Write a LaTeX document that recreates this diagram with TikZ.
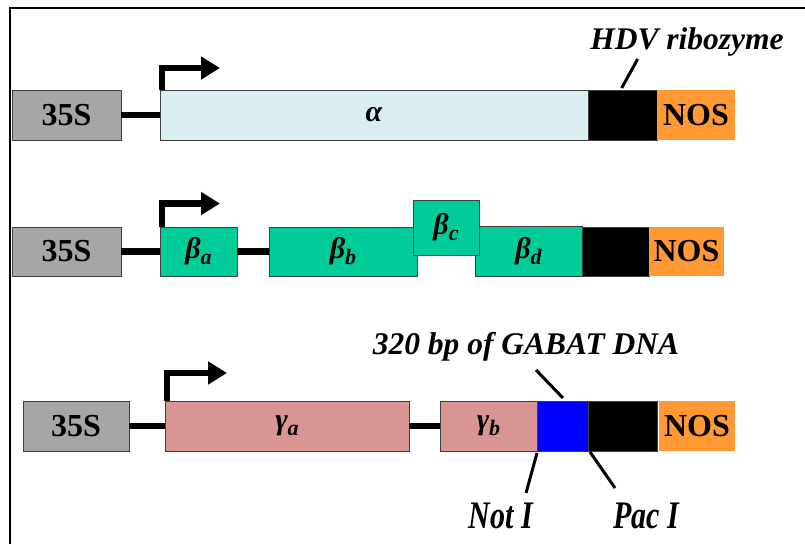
\documentclass[tikz,border=0pt]{standalone}
\usepackage{graphicx}
\usepackage{fontspec}
\setmainfont{Liberation Serif}
\usetikzlibrary{arrows.meta}
\definecolor{promgray}{HTML}{A6A6A6}
\definecolor{alphablue}{HTML}{DAEDF0}
\definecolor{betagreen}{HTML}{00CC99}
\definecolor{gammapink}{HTML}{D99594}
\definecolor{nosorange}{HTML}{FF9933}
\definecolor{gabatblue}{HTML}{0000FF}
\newcommand\bigbf{\fontsize{32}{36}\selectfont\bfseries}
\newcommand\bigbi{\fontsize{31.5}{36}\selectfont\bfseries\itshape}
\newcommand\greekbi{\fontsize{30}{34}\selectfont\bfseries\itshape}
\newcommand\gsub[1]{\raisebox{-6pt}{\fontsize{22}{22}\selectfont #1}}
\newcommand\tallbi[1]{\scalebox{1}[1.3]{\fontsize{30}{34}\selectfont\bfseries\itshape #1}}
\tikzset{
  seg/.style={rectangle, inner sep=0pt, outer sep=0pt, draw=black!75, line width=0.8pt, font=\bigbf},
  gene/.style={seg, font=\greekbi},
  nosbox/.style={rectangle, inner sep=0pt, outer sep=0pt, fill=nosorange, font=\bigbf},
  link/.style={line width=6.5pt},
  prom/.style={line width=6.5pt, -{Triangle[length=19pt,width=22pt]}},
  tick/.style={line width=3pt},
  note/.style={font=\bigbi, inner sep=0pt}
}
\begin{document}
\begin{tikzpicture}[x=1pt,y=-1pt]
\useasboundingbox (0,0) rectangle (805,544);
\fill[white] (0,0) rectangle (805,544);
% frame
\draw[line width=2pt] (10,544) -- (10,8) -- (805,8);

% ---- construct 1
\node[seg, fill=promgray, minimum width=109pt, minimum height=50pt] (s1) at (66.5,115) {35S};
\node[gene, fill=alphablue, minimum width=428pt, minimum height=50pt] (a) at (374,115) {α};
\node[seg, fill=black, minimum width=69pt, minimum height=50pt] (h1) at (622.5,115) {};
\node[nosbox, minimum width=78pt, minimum height=50pt] (n1) at (696,115) {NOS};
\draw[link] (s1.east) -- (a.west);
\coordinate (p1) at (220,68);
\draw[prom] ([xshift=2pt]a.north west) |- (p1);
\node[note] (hdv) at (687,42) {HDV ribozyme};
\coordinate (hdvA) at (637.7,59);
\coordinate (hdvB) at (621.7,88);
\draw[tick] (hdvA) -- (hdvB);

% ---- construct 2
\node[seg, fill=promgray, minimum width=109pt, minimum height=49pt] (s2) at (66.5,251.5) {35S};
\node[gene, fill=betagreen, minimum width=77pt, minimum height=49pt] (ba) at (198.5,251.5) {β\gsub{a}};
\node[gene, fill=betagreen, minimum width=148pt, minimum height=49pt] (bb) at (343,251.5) {β\gsub{b}};
\node[gene, fill=betagreen, minimum width=107pt, minimum height=50pt] (bd) at (528.5,251) {β\gsub{d}};
\node[gene, fill=betagreen, minimum width=66pt, minimum height=55pt] (bc) at (446,227.5) {β\gsub{c}};
\node[seg, fill=black, minimum width=67pt, minimum height=49pt] (h2) at (615.5,251.5) {};
\node[nosbox, minimum width=75pt, minimum height=49pt] (n2) at (686.5,251.5) {NOS};
\draw[link] (s2.east) -- (ba.west);
\draw[link] (ba.east) -- (bb.west);
\coordinate (p2) at (220,203.5);
\draw[prom] ([xshift=2pt]ba.north west) |- (p2);

% ---- construct 3
\node[seg, fill=promgray, minimum width=106pt, minimum height=50pt] (s3) at (76,426) {35S};
\node[gene, fill=gammapink, minimum width=244pt, minimum height=50pt] (ga) at (287,426) {γ\gsub{a}};
\node[gene, fill=gammapink, minimum width=97pt, minimum height=50pt] (gb) at (488.5,426) {γ\gsub{b}};
\node[seg, fill=gabatblue, minimum width=51pt, minimum height=50pt] (gab) at (562.5,426) {};
\node[seg, fill=black, minimum width=69pt, minimum height=50pt] (h3) at (622.5,426) {};
\node[nosbox, minimum width=76pt, minimum height=50pt] (n3) at (697,426) {NOS};
\draw[link] (s3.east) -- (ga.west);
\draw[link] (ga.east) -- (gb.west);
\coordinate (p3) at (227,373);
\draw[prom] ([xshift=2pt]ga.north west) |- (p3);

\node[note] (gabat) at (526,347) {320 bp of GABAT DNA};
\coordinate (gA) at (536,370);
\coordinate (gB) at (563,398);
\draw[tick] (gA) -- (gB);

\node[inner sep=0pt] (noti) at (501,516) {\tallbi{Not I}};
\coordinate (nA) at (537,453);
\coordinate (nB) at (526,493);
\draw[tick] (nA) -- (nB);

\node[inner sep=0pt] (paci) at (646,516) {\tallbi{Pac I}};
\coordinate (pA) at (590,452);
\coordinate (pB) at (615,488);
\draw[tick] (pA) -- (pB);
\end{tikzpicture}
\end{document}
